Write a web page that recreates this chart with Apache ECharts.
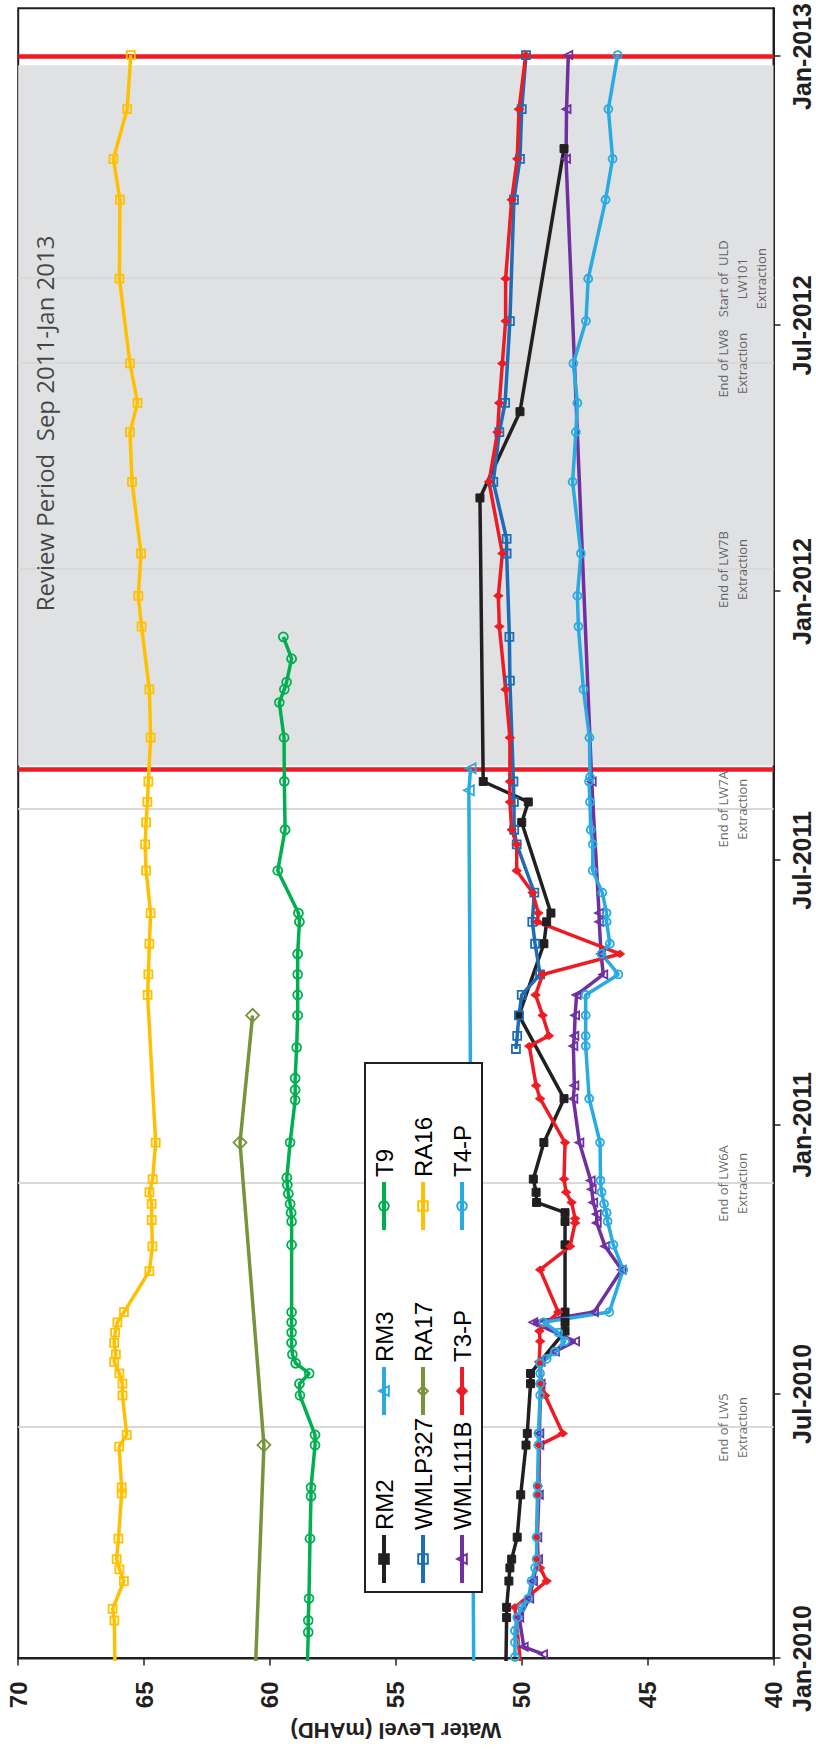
<!DOCTYPE html>
<html>
<head>
<meta charset="utf-8">
<script src="https://cdn.jsdelivr.net/npm/echarts@6/dist/echarts.min.js"></script>
<style>
  html, body { margin: 0; padding: 0; background: #fff; }
  #page { position: relative; width: 816px; height: 1752px; overflow: hidden; background: #fff; }
  /* the chart is laid out landscape and turned a quarter turn so time runs up the page */
  #chart { position: absolute; left: 0; top: 0; width: 1752px; height: 816px;
           transform-origin: 0 0; transform: translate(0, 1752px) rotate(-90deg); }
</style>
</head>
<body>
<div id="page"><div id="chart"></div></div>
<script>
// ---------- axes ----------
const tickDates  = ['2010-01-01','2010-07-01','2011-01-01','2011-07-01','2012-01-01','2012-07-01','2013-01-01'];
const tickLabels = ['Jan-2010','Jul-2010','Jan-2011','Jul-2011','Jan-2012','Jul-2012','Jan-2013'];
const dateMin = '2010-01-01';
const dateMax = '2013-02-03';
const levelMin = 40, levelMax = 70, levelStep = 5;
const levelTitle = 'Water Level (mAHD)';

// ---------- review period & mining events ----------
const reviewStart = '2011-09-01';
const reviewEnd   = '2013-01-01';
const shadeStart  = '2011-09-04';
const shadeEnd    = '2012-12-26';
const reviewText  = 'Review Period  Sep 2011-Jan 2013';
const eventDates  = ['2010-06-08','2010-11-22','2011-08-05','2012-01-16','2012-06-05','2012-08-02'];
const eventLabels = ['End of LW5\nExtraction','End of LW6A\nExtraction','End of LW7A\nExtraction',
                     'End of LW7B\nExtraction','End of LW8\nExtraction','Start of  ULD\nLW101\nExtraction'];

// ---------- bore water levels (mAHD) ----------
const rm2 = [
  ['2009-12-01',50.65],['2010-01-29',50.60],['2010-02-05',50.60],['2010-02-23',50.51],['2010-03-04',50.47],
  ['2010-03-10',50.40],['2010-03-25',50.18],['2010-04-23',50.04],['2010-05-27',49.83],['2010-06-04',49.78],
  ['2010-07-08',49.65],['2010-07-15',49.65],['2010-08-13',48.28],['2010-08-19',48.28],['2010-08-26',48.28],
  ['2010-10-11',48.28],['2010-10-27',48.28],['2010-11-02',48.28],['2010-11-09',49.41],['2010-11-16',49.43],
  ['2010-11-25',49.54],['2010-12-20',49.12],['2011-01-19',48.32],['2011-03-17',50.11],['2011-05-05',49.12],
  ['2011-05-20',49.01],['2011-05-26',48.84],['2011-07-27',50.00],['2011-08-10',49.74],['2011-08-24',51.53],
  ['2012-03-05',51.66],['2012-05-03',50.07],['2012-10-30',48.32]
];
const rm3 = [
  ['2009-12-01',51.90],['2011-08-18',52.10],['2011-09-02',52.03]
];
const t9 = [
  ['2009-12-15',58.53],['2010-01-19',58.48],['2010-01-27',58.48],['2010-02-11',58.45],['2010-03-24',58.41],
  ['2010-04-22',58.37],['2010-04-28',58.37],['2010-05-27',58.21],['2010-06-03',58.21],['2010-06-30',58.81],
  ['2010-07-08',58.83],['2010-07-15',58.44],['2010-07-22',58.98],['2010-07-28',59.11],['2010-08-05',59.14],
  ['2010-08-12',59.14],['2010-08-19',59.14],['2010-08-26',59.14],['2010-10-11',59.14],['2010-10-27',59.14],
  ['2010-11-02',59.16],['2010-11-08',59.20],['2010-11-15',59.27],['2010-11-21',59.31],['2010-11-26',59.33],
  ['2010-12-20',59.20],['2011-01-18',59.00],['2011-01-25',59.00],['2011-02-02',59.00],['2011-02-23',58.94],
  ['2011-03-17',58.90],['2011-03-31',58.90],['2011-04-14',58.90],['2011-04-28',58.90],['2011-05-20',58.83],
  ['2011-05-26',58.87],['2011-06-24',59.69],['2011-07-22',59.40],['2011-08-24',59.43],['2011-09-23',59.44],
  ['2011-10-17',59.63],['2011-10-26',59.43],['2011-10-31',59.34],['2011-11-16',59.14],['2011-12-01',59.47]
];
const wmlp327 = [
  ['2011-02-22',50.23],['2011-03-03',50.18],['2011-03-17',50.11],['2011-03-31',50.00],['2011-04-14',49.27],
  ['2011-05-05',49.47],['2011-05-20',49.58],['2011-06-09',49.50],['2011-07-12',50.20],['2011-07-22',50.30],
  ['2011-08-10',50.31],['2011-08-24',50.33],['2011-11-01',50.47],['2011-12-01',50.49],['2012-01-27',50.60],
  ['2012-02-06',50.60],['2012-03-16',51.13],['2012-04-19',50.89],['2012-05-09',50.66],['2012-07-04',50.47],
  ['2012-09-25',50.31],['2012-10-23',50.07],['2012-11-26',50.00],['2013-01-02',49.83]
];
const ra17 = [
  ['2009-12-15',60.60],['2010-05-27',60.24],['2010-12-20',61.19],['2011-03-17',60.69]
];
const ra16 = [
  ['2009-12-15',66.15],['2010-01-27',66.18],['2010-02-04',66.25],['2010-02-23',65.80],['2010-03-03',65.98],
  ['2010-03-10',66.09],['2010-03-24',66.02],['2010-04-24',65.89],['2010-04-28',65.89],['2010-05-26',65.99],
  ['2010-06-03',65.69],['2010-06-30',65.86],['2010-07-08',65.86],['2010-07-15',65.98],['2010-07-23',66.19],
  ['2010-07-28',66.12],['2010-08-05',66.19],['2010-08-12',66.15],['2010-08-19',66.06],['2010-08-26',65.80],
  ['2010-09-23',64.79],['2010-10-10',64.67],['2010-10-28',64.70],['2010-11-08',64.70],['2010-11-16',64.79],
  ['2010-11-25',64.66],['2010-12-20',64.54],['2011-03-31',64.86],['2011-04-14',64.83],['2011-05-05',64.79],
  ['2011-05-26',64.74],['2011-06-24',64.92],['2011-07-12',64.96],['2011-07-27',64.92],['2011-08-10',64.87],
  ['2011-08-24',64.83],['2011-09-23',64.74],['2011-10-26',64.79],['2011-12-08',65.10],['2011-12-29',65.23],
  ['2012-01-27',65.12],['2012-03-16',65.48],['2012-04-19',65.56],['2012-05-09',65.26],['2012-06-05',65.56],
  ['2012-08-02',65.98],['2012-09-25',65.96],['2012-10-23',66.22],['2012-11-26',65.67],['2013-01-02',65.53]
];
const wml111b = [
  ['2010-01-04',49.15],['2010-01-09',49.92],['2010-01-29',50.10],['2010-02-11',49.70],['2010-02-23',49.55],
  ['2010-03-10',49.35],['2010-03-25',49.38],['2010-04-23',49.32],['2010-05-27',49.30],['2010-06-04',49.30],
  ['2010-07-08',49.25],['2010-07-23',49.25],['2010-07-30',48.68],['2010-08-06',47.88],['2010-08-19',49.54],
  ['2010-08-26',47.13],['2010-09-24',46.03],['2010-10-10',46.69],['2010-10-26',47.02],['2010-11-01',47.02],
  ['2010-11-09',47.16],['2010-11-18',47.22],['2010-11-24',47.26],['2010-12-20',47.71],['2011-01-19',47.95],
  ['2011-01-28',47.91],['2011-02-24',47.95],['2011-03-03',47.91],['2011-03-17',47.88],['2011-03-31',47.82],
  ['2011-04-14',46.76],['2011-04-28',46.85],['2011-05-20',46.92],['2011-05-26',46.93],['2011-08-24',47.22],
  ['2012-10-23',48.24],['2012-11-26',48.22],['2013-01-02',48.15]
];
const t3p = [
  ['2009-12-15',49.97],['2010-02-05',50.27],['2010-02-23',49.01],['2010-03-04',49.27],['2010-03-10',49.38],
  ['2010-03-25',49.40],['2010-04-23',49.36],['2010-04-29',49.36],['2010-05-27',49.30],['2010-06-04',48.37],
  ['2010-06-30',49.07],['2010-07-08',49.21],['2010-07-23',49.31],['2010-08-06',49.27],['2010-08-13',49.30],
  ['2010-08-26',48.55],['2010-09-24',49.27],['2010-10-10',48.08],['2010-10-26',47.88],['2010-10-29',47.88],
  ['2010-11-09',48.02],['2010-11-16',48.24],['2010-11-25',48.32],['2010-12-20',48.28],['2011-01-19',49.27],
  ['2011-01-28',49.43],['2011-02-24',49.70],['2011-03-03',48.92],['2011-03-17',49.17],['2011-03-31',49.45],
  ['2011-04-14',49.17],['2011-04-28',46.10],['2011-05-20',49.38],['2011-05-26',49.34],['2011-06-09',49.57],
  ['2011-06-24',50.20],['2011-07-12',50.20],['2011-07-22',50.40],['2011-08-10',50.47],['2011-08-24',50.47],
  ['2011-09-23',50.47],['2011-10-26',50.64],['2011-12-08',50.89],['2011-12-29',50.93],['2012-01-27',50.77],
  ['2012-03-16',51.30],['2012-04-19',50.96],['2012-05-09',50.89],['2012-06-05',50.77],['2012-07-04',50.64],
  ['2012-08-02',50.64],['2012-09-25',50.40],['2012-10-23',50.18],['2012-11-26',50.11],['2013-01-02',49.84]
];
const t4p = [
  ['2010-01-02',50.27],['2010-01-12',50.27],['2010-01-20',50.27],['2010-01-29',50.18],['2010-02-05',50.00],
  ['2010-02-11',49.74],['2010-02-23',49.61],['2010-03-04',49.47],['2010-03-10',49.41],['2010-03-25',49.41],
  ['2010-04-23',49.37],['2010-04-29',49.37],['2010-05-27',49.34],['2010-06-04',49.34],['2010-06-30',49.27],
  ['2010-07-08',49.27],['2010-07-15',49.27],['2010-07-22',49.27],['2010-07-25',49.01],['2010-07-30',48.68],
  ['2010-08-06',48.28],['2010-08-12',48.55],['2010-08-19',49.14],['2010-08-26',46.52],['2010-09-24',45.97],
  ['2010-10-11',46.36],['2010-10-27',46.59],['2010-11-02',46.63],['2010-11-08',46.73],['2010-11-16',46.83],
  ['2010-11-24',46.87],['2010-12-20',46.89],['2011-01-19',47.32],['2011-02-24',47.46],['2011-03-03',47.46],
  ['2011-03-17',47.46],['2011-03-31',47.46],['2011-04-14',46.16],['2011-04-28',46.83],['2011-05-05',46.50],
  ['2011-05-20',46.63],['2011-05-26',46.63],['2011-06-09',46.80],['2011-06-24',47.18],['2011-07-12',47.18],
  ['2011-07-22',47.26],['2011-08-10',47.29],['2011-08-24',47.33],['2011-08-27',47.29],['2011-09-23',47.31],
  ['2011-10-26',47.55],['2011-12-08',47.75],['2011-12-29',47.79],['2012-01-27',47.65],['2012-03-16',47.98],
  ['2012-04-19',47.85],['2012-05-09',47.79],['2012-06-05',47.95],['2012-07-04',47.45],['2012-08-02',47.36],
  ['2012-09-25',46.67],['2012-10-23',46.39],['2012-11-26',46.56],['2013-01-02',46.19]
];

// ---------- drawing ----------
const AXIS_FONT = '"Liberation Sans", Arial, Helvetica, sans-serif';
const NOTE_FONT = '"Open Sans", "Noto Sans", sans-serif';
const FRAME = '#231F20';

// dates become millisecond values on a plain numeric axis
function toTime(s) { const p = s.split('-').map(Number); return new Date(p[0], p[1] - 1, p[2]).getTime(); }
const tickValues = tickDates.map(toTime);
const asPoints = rows => rows.map(r => [toTime(r[0]), r[1]]);

// legend order is column by column inside the boxed key
const bores = [
  { name: 'RM2',     data: rm2,     color: '#231F20', symbol: 'rect',     size: 8,      filled: true  },
  { name: 'RM3',     data: rm3,     color: '#29ABE2', symbol: 'triangle', size: 10,     filled: false },
  { name: 'T9',      data: t9,      color: '#00B050', symbol: 'circle',   size: 9,      filled: false },
  { name: 'WMLP327', data: wmlp327, color: '#1F6CB6', symbol: 'rect',     size: 8,      filled: false },
  { name: 'RA17',    data: ra17,    color: '#77933C', symbol: 'diamond',  size: 13,     filled: false },
  { name: 'RA16',    data: ra16,    color: '#FFC000', symbol: 'rect',     size: 8,      filled: false },
  { name: 'WML111B', data: wml111b, color: '#7030A0', symbol: 'triangle', size: 8,      filled: false },
  { name: 'T3-P',    data: t3p,     color: '#ED1C24', symbol: 'diamond',  size: [7, 9], filled: true  },
  { name: 'T4-P',    data: t4p,     color: '#29ABE2', symbol: 'circle',   size: 8,      filled: false }
];

const boreSeries = bores.map(b => ({
  name: b.name,
  type: 'line',
  data: asPoints(b.data),
  z: 3,
  clip: true,
  symbol: b.symbol,
  symbolSize: b.size,
  showAllSymbol: true,
  lineStyle: { color: b.color, width: 3.5 },
  itemStyle: b.filled
    ? { color: b.color, borderColor: b.color, borderWidth: 1 }
    : { color: 'rgba(255,255,255,0)', borderColor: b.color, borderWidth: 1.8 },
  emphasis: { disabled: true }
}));

const helperSeries = [
  {
    name: 'review-shade', type: 'line', data: [], silent: true,
    markArea: { silent: true, z: 1, itemStyle: { color: '#E0E1E3' },
                data: [[{ xAxis: toTime(shadeStart) }, { xAxis: toTime(shadeEnd) }]] },
    markLine: { silent: true, z: 1.5, symbol: ['none', 'none'], label: { show: false },
                lineStyle: { color: '#D9D9D9', width: 2, type: 'solid' },
                data: eventDates.map(d => ({ xAxis: toTime(d) })) }
  },
  {
    name: 'review-bounds', type: 'line', data: [], silent: true,
    markLine: { silent: true, z: 2, symbol: ['none', 'none'], label: { show: false },
                lineStyle: { color: '#ED1C24', width: 4.5, type: 'solid' },
                data: [reviewStart, reviewEnd].map(d => ({ xAxis: toTime(d) })) }
  },
  {
    name: 'notes', type: 'scatter', silent: true, z: 4, symbolSize: 0,
    itemStyle: { color: 'rgba(0,0,0,0)' },
    data: eventDates.map((d, i) => ({
      value: [toTime(d), 42.38],
      label: { show: true, formatter: eventLabels[i], position: [0, 0], align: 'center', verticalAlign: 'top',
               fontFamily: NOTE_FONT, fontSize: 13, lineHeight: 19, color: '#404040' }
    })).concat([{
      value: [toTime('2012-04-25'), 68.94],
      label: { show: true, formatter: reviewText, position: [0, 0], align: 'center', verticalAlign: 'middle',
               fontFamily: NOTE_FONT, fontSize: 24, color: '#1A1A1A' }
    }])
  }
];

const legendColumns = [['RM2', 'WMLP327', 'WML111B'], ['RM3', 'RA17', 'T3-P'], ['T9', 'RA16', 'T4-P']];
const legendLefts = [167, 335, 520];

const chart = echarts.init(document.getElementById('chart'), null, { renderer: 'svg' });
chart.setOption({
  animation: false,
  backgroundColor: '#fff',
  grid: { left: 93.5, right: 3.5, top: 18.2, bottom: 42.5, containLabel: false,
          show: true, borderColor: FRAME, borderWidth: 2, backgroundColor: 'transparent' },
  xAxis: {
    type: 'value', min: toTime(dateMin), max: toTime(dateMax),
    axisLine: { show: true, lineStyle: { color: FRAME, width: 2 } },
    axisTick: { show: true, inside: false, length: 7, customValues: tickValues, lineStyle: { color: FRAME, width: 1.5 } },
    axisLabel: { show: true, customValues: tickValues, margin: 16, hideOverlap: false,
                 showMinLabel: true, showMaxLabel: true,
                 formatter: v => tickLabels[tickValues.indexOf(v)] || '',
                 fontFamily: AXIS_FONT, fontWeight: 'bold', fontSize: 25, color: FRAME },
    splitLine: { show: false }
  },
  yAxis: {
    type: 'value', min: levelMin, max: levelMax, interval: levelStep,
    name: levelTitle, nameLocation: 'middle', nameGap: 61,
    nameTextStyle: { fontFamily: AXIS_FONT, fontWeight: 'bold', fontSize: 22, color: FRAME },
    axisLine: { show: true, lineStyle: { color: FRAME, width: 2 } },
    axisTick: { show: true, inside: false, length: 7, lineStyle: { color: FRAME, width: 1.5 } },
    axisLabel: { margin: 23, fontFamily: AXIS_FONT, fontWeight: 'bold', fontSize: 24, color: FRAME },
    splitLine: { show: false }
  },
  legend: legendColumns.map((names, i) => ({
    orient: 'vertical', left: legendLefts[i], top: 371, padding: 0, itemGap: 13,
    itemWidth: 48, itemHeight: 12, data: names, selectedMode: false, z: 200,
    lineStyle: { width: 4 },
    textStyle: { fontFamily: AXIS_FONT, fontSize: 24, lineHeight: 26, color: '#000' }
  })),
  graphic: { elements: [{
    type: 'rect', left: 159, top: 364, z: 150, silent: true,
    shape: { width: 529, height: 117 },
    style: { fill: '#fff', stroke: FRAME, lineWidth: 2 }
  }] },
  series: helperSeries.concat(boreSeries)
});
</script>
</body>
</html>
